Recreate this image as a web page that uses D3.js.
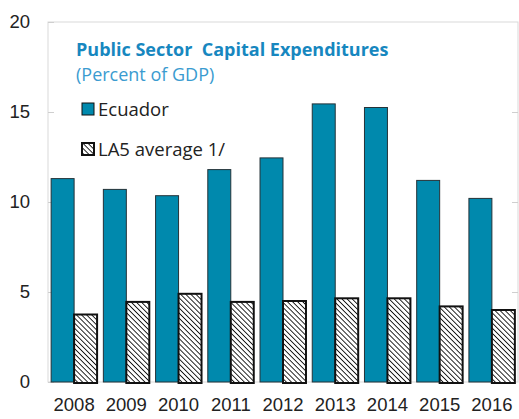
<!DOCTYPE html>
<html>
<head>
<meta charset="utf-8">
<script src="https://cdn.jsdelivr.net/npm/d3@7"></script>
<style>
  body { margin: 0; background: #fff; }
  svg { display: block; font-family: "Open Sans", "Noto Sans", sans-serif; }
</style>
</head>
<body>
<div class="chart"></div>
<script>
const years = ['2008','2009','2010','2011','2012','2013','2014','2015','2016'];
const ecuador = [11.3, 10.7, 10.35, 11.8, 12.45, 15.45, 15.25, 11.2, 10.2];
const la5 = [3.75, 4.45, 4.9, 4.45, 4.5, 4.65, 4.65, 4.2, 4.0];
const yTicks = [0, 5, 10, 15, 20];
const seriesNames = ['Ecuador', 'LA5 average 1/'];

const width = 519, height = 419;
const plotLeft = 48, plotRight = 518, plotTop = 22, plotBottom = 382;

const svg = d3.select('.chart').append('svg')
    .attr('width', width)
    .attr('height', height)

// hatch pattern for LA5 bars
const defs = svg.append('defs');
const pat = defs.append('pattern')
    .attr('id', 'hatch')
    .attr('patternUnits', 'userSpaceOnUse')
    .attr('width', 3.6)
    .attr('height', 3.6)
    .attr('patternTransform', 'rotate(-45)');
pat.append('rect').attr('width', 3.6).attr('height', 3.6).attr('fill', '#fff');
pat.append('line')
    .attr('x1', 0).attr('y1', 0).attr('x2', 0).attr('y2', 3.6)
    .attr('stroke', '#111').attr('stroke-width', 1.8);

const x = d3.scaleBand()
    .domain(years)
    .range([plotLeft, plotRight])
    .paddingInner(0.12)
    .paddingOuter(0.06);

const x1 = d3.scaleBand()
    .domain(seriesNames)
    .range([0, x.bandwidth()]);

const y = d3.scaleLinear()
    .domain([0, 20])
    .range([plotBottom, plotTop]);

// frame
svg.append('rect')
    .attr('x', plotLeft).attr('y', plotTop)
    .attr('width', plotRight - plotLeft).attr('height', plotBottom - plotTop)
    .attr('fill', 'none')
    .attr('stroke', '#d9d9d9')
    .attr('stroke-width', 1);

// left axis
const yAxis = svg.append('g')
    .attr('transform', `translate(${plotLeft},0)`)
    .call(d3.axisLeft(y).tickValues(yTicks).tickSize(-6).tickPadding(18));
yAxis.select('.domain').remove();
yAxis.selectAll('line').attr('stroke', '#cfcfcf');
yAxis.selectAll('text')
    .attr('font-size', 18.5)
    .attr('fill', '#222');

// right axis ticks
const yAxisR = svg.append('g')
    .attr('transform', `translate(${plotRight},0)`)
    .call(d3.axisRight(y).tickValues([5, 10, 15]).tickSize(-6).tickFormat(''));
yAxisR.select('.domain').remove();
yAxisR.selectAll('line').attr('stroke', '#cfcfcf');

// bars
const groups = svg.selectAll('.year')
    .data(years)
    .enter()
    .append('g')
    .attr('class', 'year')
    .attr('transform', d => `translate(${x(d)},0)`);

groups.append('rect')
    .attr('x', x1('Ecuador'))
    .attr('y', (d,i) => y(ecuador[i]))
    .attr('width', x1.bandwidth())
    .attr('height', (d,i) => y(0) - y(ecuador[i]))
    .attr('fill', '#0089ad')
    .attr('stroke', '#253238')
    .attr('stroke-width', 1);

groups.append('rect')
    .attr('x', x1('LA5 average 1/'))
    .attr('y', (d,i) => y(la5[i]))
    .attr('width', x1.bandwidth())
    .attr('height', (d,i) => y(0) - y(la5[i]) + 1)
    .attr('fill', 'url(#hatch)')
    .attr('stroke', '#111')
    .attr('stroke-width', 2);

// x axis labels
const xAxis = svg.append('g')
    .attr('transform', `translate(0,${plotBottom})`)
    .call(d3.axisBottom(x).tickSize(0).tickPadding(16));
xAxis.select('.domain').remove();
xAxis.selectAll('text')
    .attr('font-size', 18.5)
    .attr('fill', '#222');

// title
svg.append('text')
    .attr('x', 76)
    .attr('y', 56)
    .attr('font-size', 18)
    .attr('font-weight', 'bold')
    .attr('fill', '#1787bf')
    .style('white-space', 'pre')
    .text('Public Sector  Capital Expenditures');
svg.append('text')
    .attr('x', 76)
    .attr('y', 81)
    .attr('font-size', 18)
    .attr('fill', '#3a9bd0')
    .text('(Percent of GDP)');

// legend
const legend = svg.selectAll('.legend')
    .data(seriesNames)
    .enter()
    .append('g')
    .attr('class', 'legend')
    .attr('transform', (d,i) => `translate(82,${103 + i*40})`);
legend.append('rect')
    .attr('width', 12)
    .attr('height', 12)
    .attr('fill', (d,i) => i == 0 ? '#0089ad' : 'url(#hatch)')
    .attr('stroke', '#111')
    .attr('stroke-width', (d,i) => i == 0 ? 1 : 2);
legend.append('text')
    .attr('x', 16)
    .attr('y', 13)
    .attr('font-size', 18.5)
    .attr('fill', '#222')
    .text(d => d);
</script>
</body>
</html>
